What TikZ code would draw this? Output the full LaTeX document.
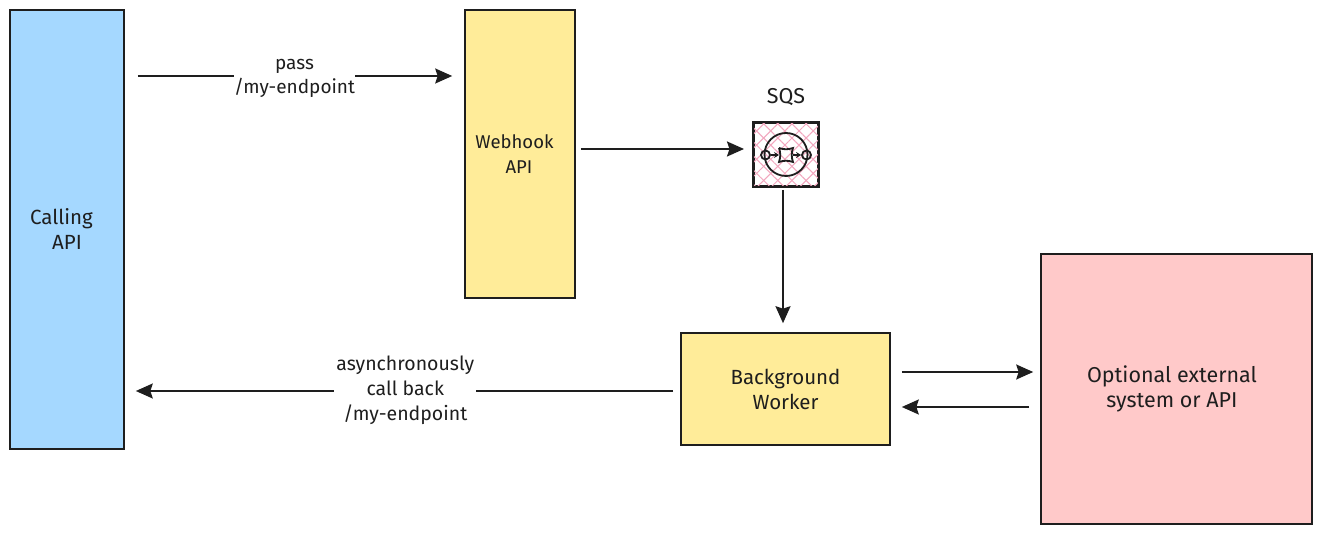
\documentclass[tikz,border=0pt]{standalone}
\usepackage{fontspec}
\setmainfont{Fira Sans}
\usetikzlibrary{arrows.meta,patterns.meta,positioning}
\definecolor{inkc}{HTML}{1E1E1E}
\definecolor{bluec}{HTML}{A5D8FF}
\definecolor{yellowc}{HTML}{FFEC99}
\definecolor{redc}{HTML}{FFC9C9}
\definecolor{pinkc}{HTML}{F2A6BE}
\tikzset{
  box/.style={draw=inkc,line width=1.6pt,inner sep=0pt,align=center,font=\fontsize{20.5}{25}\selectfont,text=inkc},
  lbl/.style={inner sep=2pt,align=center,font=\fontsize{19.5}{25}\selectfont,text=inkc},
  flow/.style={->,draw=inkc,line width=2pt},
  port/.style={circle,draw=inkc,line width=1.8pt,fill=none,inner sep=0pt,minimum size=9pt},
}
\begin{document}
\begin{tikzpicture}[x=1pt,y=-1pt,>={Stealth[length=17pt,width=15pt,inset=2.5pt]}]
\useasboundingbox (0,0) rectangle (1322,534);

\node[box,fill=bluec,minimum width=114pt,minimum height=439pt] (calling) at (67,229.5) {\hspace{-11pt}Calling\\API};
\node[box,fill=yellowc,minimum width=110pt,minimum height=288pt,font=\fontsize{18.5}{25}\selectfont] (webhook) at (520,154) {\hspace{-11pt}Webhook\\\hspace{-2pt}API};
\node[box,fill=yellowc,minimum width=209pt,minimum height=112pt] (worker) at (785.5,389) {Background\\Worker};
\node[box,fill=redc,minimum width=271pt,minimum height=270pt,font=\fontsize{21.5}{25}\selectfont] (external) at (1176.5,389) {\hspace{-9pt}Optional external\\\hspace{-9pt}system or API};

\node[box,fill=white,minimum width=64.4pt,minimum height=63.4pt] (sqs) at (786,154.5) {};
\fill[pattern={Lines[angle=45,distance=10pt,line width=1pt]},pattern color=pinkc] (sqs.south west) rectangle (sqs.north east);
\fill[pattern={Lines[angle=-45,distance=10pt,line width=1pt]},pattern color=pinkc] (sqs.south west) rectangle (sqs.north east);
\draw[draw=inkc,line width=2pt,line join=miter] (sqs.south west) rectangle (sqs.north east);
\node[lbl,above=14pt of sqs,font=\fontsize{21.5}{25}\selectfont] (sqslabel) {SQS};

\draw[draw=inkc,line width=1.8pt] (sqs.center) circle (21.5pt);
\node[port] (portin) at (765.5,155) {};
\node[port] (portout) at (806.5,155) {};
\coordinate (c1) at (779,148);
\coordinate (c2) at (793,148);
\coordinate (c3) at (793,162);
\coordinate (c4) at (779,162);
\draw[draw=inkc,line width=1.8pt] (c1) to[bend right=18] (c2) to[bend right=18] (c3) to[bend right=18] (c4) to[bend right=18] (c1);
\draw[->,>={Stealth[length=5pt,width=6pt]},draw=inkc,line width=1.4pt] (portin) -- (779,155);
\draw[->,>={Stealth[length=5pt,width=6pt]},draw=inkc,line width=1.4pt] (793,155) -- (portout);

\draw[flow,shorten <=13pt,shorten >=12pt] ([yshift=153.5pt]calling.east) -- ([yshift=78pt]webhook.west) node[lbl,pos=.5,yshift=-2pt,fill=white,inner ysep=0pt,inner xsep=0pt,font=\fontsize{19}{24}\selectfont] (passlabel) {pass\\/my-endpoint};
\draw[flow,shorten <=5pt,shorten >=9pt] ([yshift=5pt]webhook.east) -- ([yshift=5.5pt]sqs.west);
\draw[flow,shorten <=3pt,shorten >=9pt] ([xshift=-3pt]sqs.south) -- ([xshift=-2.5pt]worker.north);
\draw[flow,shorten <=7pt,shorten >=11pt] ([yshift=-2pt]worker.west) -- ([yshift=-161.5pt]calling.east) node[lbl,pos=.495,yshift=1pt,fill=white,inner ysep=0pt,inner xsep=2pt] (backlabel) {asynchronously\\call back\\/my-endpoint};
\draw[flow,shorten <=11pt,shorten >=7pt] ([yshift=17pt]worker.east) -- ([yshift=17pt]external.west);
\draw[flow,shorten <=11pt,shorten >=11pt] ([yshift=-18pt]external.west) -- ([yshift=-18pt]worker.east);
\end{tikzpicture}
\end{document}
